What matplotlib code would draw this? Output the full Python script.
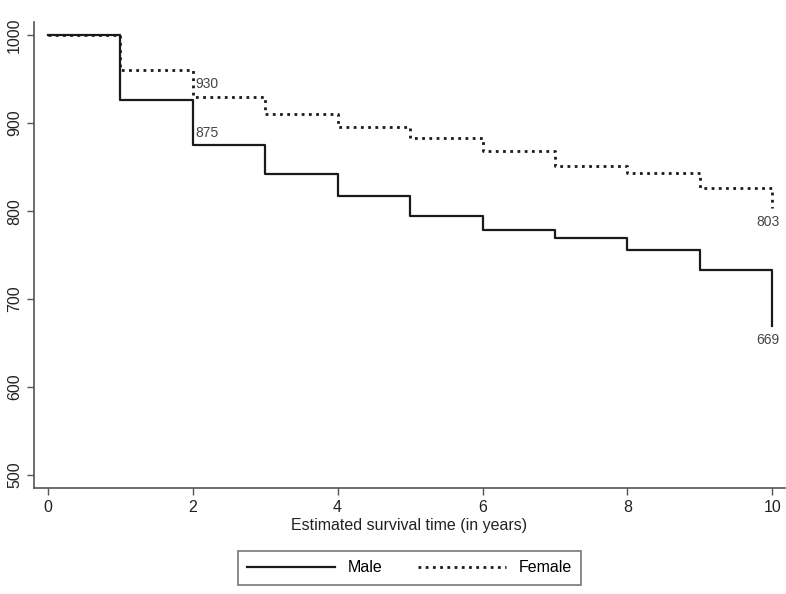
import numpy as np
import matplotlib.pyplot as plt

plt.rcParams['font.family'] = ['Liberation Sans', 'DejaVu Sans']

years = [0, 1, 2, 3, 4, 5, 6, 7, 8, 9, 10]
male = [1000, 926, 875, 842, 817, 794, 778, 769, 756, 733, 669]
female = [1000, 960, 930, 910, 896, 883, 868, 851, 843, 826, 803]

fig = plt.figure(figsize=(7.86, 5.94), dpi=100)
ax = fig.add_axes([0.0433, 0.178, 0.955, 0.785])

ax.step(years, male, where='post', color='#1a1a1a', lw=1.6, label='Male')
ax.step(years, female, where='post', color='#1a1a1a', lw=2.0,
        linestyle=(0, (1, 1.6)), label='Female')

grey = '#444444'
ax.text(2.04, 945, '930', fontsize=10, color=grey, va='center', ha='left')
ax.text(2.04, 875 + 14, '875', fontsize=10, color=grey, va='center', ha='left')
ax.text(10.1, 803 - 15, '803', fontsize=10, color=grey, va='center', ha='right')
ax.text(10.1, 669 - 15, '669', fontsize=10, color=grey, va='center', ha='right')

ax.set_xlim(-0.19, 10.17)
ax.set_ylim(485, 1015)
ax.set_xticks([0, 2, 4, 6, 8, 10])
ax.set_yticks([500, 600, 700, 800, 900, 1000])
for lab in ax.get_yticklabels():
    lab.set_rotation(90)
    lab.set_va('center')
ax.tick_params(colors='#222222', labelsize=11.5, length=5, width=1, direction='out')
ax.tick_params(axis='both', color='#555555')
ax.spines['top'].set_visible(False)
ax.spines['right'].set_visible(False)
for s in ['left', 'bottom']:
    ax.spines[s].set_color('#555555')
    ax.spines[s].set_linewidth(1.2)
ax.set_xlabel('Estimated survival time (in years)', fontsize=11.5, color='#222222', labelpad=2)

leg = fig.legend(loc='center', bbox_to_anchor=(0.521, 0.044), ncol=2,
                 frameon=True, fancybox=False, edgecolor='#555555', fontsize=11.5,
                 handlelength=5.5, columnspacing=2.2, borderpad=0.6)
leg.get_frame().set_linewidth(1.2)

fig.savefig('out.png', dpi=100)
